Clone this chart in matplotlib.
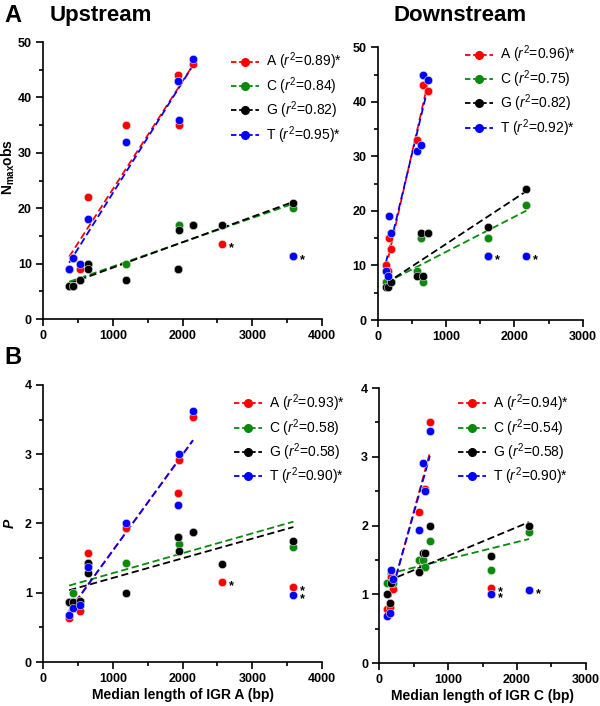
import numpy as np
import matplotlib
matplotlib.use("Agg")
from matplotlib import pyplot as plt
from matplotlib.ticker import MultipleLocator

plt.rcParams["font.family"] = ["Liberation Sans", "DejaVu Sans"]
plt.rcParams["mathtext.fontset"] = "custom"
plt.rcParams["mathtext.rm"] = "Liberation Sans"
plt.rcParams["mathtext.it"] = "Liberation Sans:italic"
plt.rcParams["mathtext.bf"] = "Liberation Sans:bold"

nan = np.nan

# upstream, x = median length of IGR A (bp)
x_up = [375, 435, 535, 640, 640, 1190, 1935, 1950, 2150, 2560, 3590]
up_nmax = {
    "A": [9, 11, 9, 22, nan, 35, 44, 35, 46, 13.6, 11.3],
    "C": [6, 6, 7, 10, nan, 10, 9, 17, 17, nan, 20],
    "G": [6, 6, 7, 10, 9, 7, 9, 16, 17, 17, 21],
    "T": [9, 11, 10, 18, nan, 32, 43, 36, 47, nan, 11.3],
}
up_p = {
    "A": [0.63, 0.78, 0.74, 1.57, nan, 1.94, 2.44, 2.91, 3.54, 1.15, 1.09],
    "C": [0.86, 1.0, 0.88, 1.43, nan, 1.43, 1.80, 1.70, 1.88, nan, 1.66],
    "G": [0.86, 0.86, 0.88, 1.43, 1.29, 1.0, 1.80, 1.60, 1.88, 1.42, 1.75],
    "T": [0.68, 0.78, 0.82, 1.375, nan, 2.0, 2.26, 3.0, 3.62, nan, 0.97],
}
up_out = {"A": [9, 10], "C": [], "G": [], "T": [10]}

# downstream, x = median length of IGR C (bp)
x_dn = [120, 150, 170, 200, 575, 635, 670, 735, 1620, 2175]
dn_nmax = {
    "A": [10, 9, 15, 13, 33, nan, 43, 42, 11.8, nan],
    "C": [7, nan, nan, 7, 9, 15, 7, nan, 15, 21],
    "G": [6, 6, nan, 7, 8, 16, 8, 16, 17, 24],
    "T": [9, 8, 19, 16, 31, 32, 45, 44, 11.8, 11.8],
}
dn_p = {
    "A": [0.78, 0.81, 1.25, 1.08, 2.20, nan, 2.53, 3.50, 1.09, nan],
    "C": [1.17, nan, nan, 1.17, 1.50, 1.50, 1.40, 1.78, 1.36, 1.90],
    "G": [1.0, 0.88, 1.17, nan, 1.33, 1.60, 1.60, 2.0, 1.55, 2.0],
    "T": [0.68, 0.73, 1.36, 1.22, 1.94, 2.91, 2.50, 3.38, 1.00, 1.06],
}
dn_out = {"A": [8], "C": [], "G": [], "T": [8, 9]}

r2 = {
    "up_nmax": {"A": "0.89", "C": "0.84", "G": "0.82", "T": "0.95"},
    "dn_nmax": {"A": "0.96", "C": "0.75", "G": "0.82", "T": "0.92"},
    "up_p": {"A": "0.93", "C": "0.58", "G": "0.58", "T": "0.90"},
    "dn_p": {"A": "0.94", "C": "0.54", "G": "0.58", "T": "0.90"},
}
sig = {"A": "*", "C": "", "G": "", "T": "*"}
colors = {"A": "#ff0000", "C": "#0a8a0a", "G": "#000000", "T": "#0000ff"}

fig = plt.figure(figsize=(6, 7.06), dpi=100)


def panel(rect, xs, data, outliers, r2s, xmax, ymax, ymaj, ymin, leg_at,
          xlabel=None, ylabel=None, ylab_y=0.5):
    ax = fig.add_axes(rect)
    xs = np.array(xs, dtype=float)
    starred = set()
    for nt in ["A", "C", "G", "T"]:
        ys = np.array(data[nt], dtype=float)
        ok = ~np.isnan(ys)
        fit = ok.copy()
        fit[outliers[nt]] = False
        k, b = np.polyfit(xs[fit], ys[fit], 1)
        xl = np.array([xs[fit].min(), xs[fit].max()])
        ax.plot(xl, k * xl + b, ls=(0, (4, 2)), color=colors[nt], lw=1.3, zorder=2)
        ax.plot(xs[ok], ys[ok], "o", color=colors[nt], ms=6, mec="#e0e0e0", mew=0.4,
                zorder=3)
        ax.plot([], [], ls=(0, (3, 1.5)), marker="o", color=colors[nt], ms=5.5, lw=1.3,
                label=nt + " ($r^2$=" + r2s[nt] + ")" + sig[nt])
        for i in outliers[nt]:
            # one star per marked point, even when two series share it
            if (xs[i], ys[i]) in starred:
                continue
            starred.add((xs[i], ys[i]))
            ax.annotate("*", (xs[i], ys[i]), xytext=(5, -3), textcoords="offset points",
                        fontsize=9, fontweight="bold", va="center", ha="left")
    ax.set_xlim(0, xmax)
    ax.set_ylim(0, ymax)
    ax.xaxis.set_major_locator(MultipleLocator(1000))
    ax.xaxis.set_minor_locator(MultipleLocator(500))
    ax.yaxis.set_major_locator(MultipleLocator(ymaj))
    ax.yaxis.set_minor_locator(MultipleLocator(ymin))
    for s in ["top", "right"]:
        ax.spines[s].set_visible(False)
    for s in ["left", "bottom"]:
        ax.spines[s].set_linewidth(1.2)
    ax.tick_params(which="major", direction="out", length=5, width=1.2, labelsize=9,
                   pad=3)
    ax.tick_params(which="minor", direction="out", length=3, width=1.2)
    for t in ax.get_xticklabels() + ax.get_yticklabels():
        t.set_fontweight("bold")
    if xlabel:
        ax.set_xlabel(xlabel, fontsize=10, fontweight="bold", labelpad=2)
    if ylabel:
        ax.set_ylabel(ylabel, fontsize=10, fontweight="bold")
        ax.yaxis.set_label_coords(-0.095, ylab_y)
    ax.legend(loc="upper left", bbox_to_anchor=leg_at, bbox_transform=fig.transFigure,
              frameon=False, fontsize=10, handlelength=2.0, handletextpad=0.5,
              labelspacing=0.2, borderpad=0, borderaxespad=0, numpoints=1)
    return ax


panel([0.0717, 0.548, 0.465, 0.3925], x_up, up_nmax, up_out, r2["up_nmax"],
      4000, 50, 10, 5, (0.385, 0.928), ylabel="N$_{\\mathbf{max}}$obs", ylab_y=0.55)
panel([0.6295, 0.5467, 0.3417, 0.3863], x_dn, dn_nmax, dn_out, r2["dn_nmax"],
      3000, 50, 10, 5, (0.775, 0.938))
axb = panel([0.0717, 0.0623, 0.465, 0.3924], x_up, up_p, up_out, r2["up_p"],
            4000, 4, 1, 0.5, (0.39, 0.444), xlabel="Median length of IGR A (bp)", ylabel="P")
axb.yaxis.label.set_style("italic")
panel([0.632, 0.0609, 0.3445, 0.3895], x_dn, dn_p, dn_out, r2["dn_p"],
      3000, 4, 1, 0.5, (0.763, 0.444), xlabel="Median length of IGR C (bp)")

fig.text(0.008, 0.978, "A", fontsize=17, fontweight="bold", va="center")
fig.text(0.083, 0.978, "Upstream", fontsize=16, fontweight="bold", va="center")
fig.text(0.767, 0.978, "Downstream", fontsize=16, fontweight="bold", va="center", ha="center")
fig.text(0.008, 0.493, "B", fontsize=17, fontweight="bold", va="center")

fig.savefig("out.png", dpi=100)
